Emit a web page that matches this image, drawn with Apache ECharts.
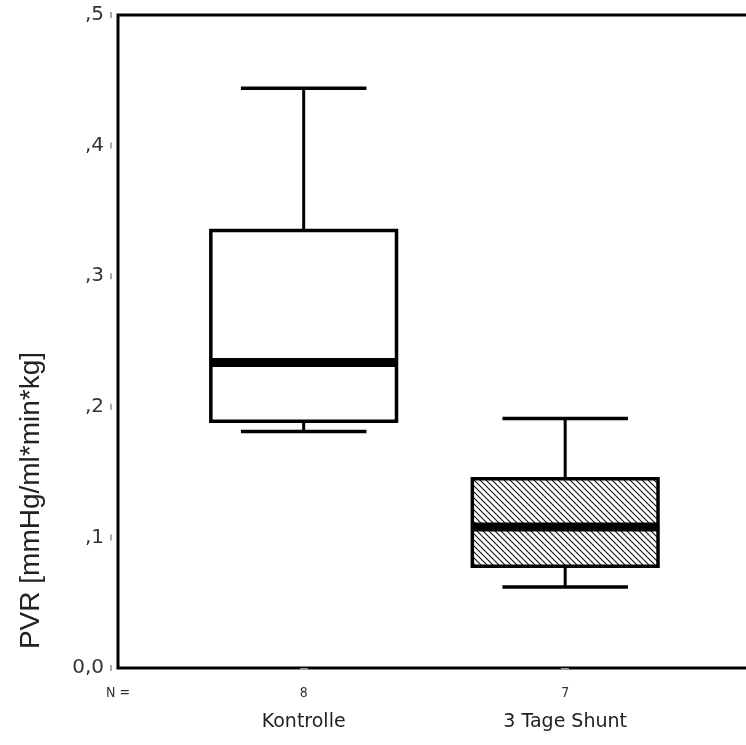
<!DOCTYPE html>
<html>
<head>
<meta charset="utf-8">
<title>PVR</title>
<script src="https://cdn.jsdelivr.net/npm/echarts@6.0.0/dist/echarts.min.js"></script>
<style>
    html, body { margin: 0; padding: 0; background: #fff; }
    #chart { width: 746px; height: 745px; }
</style>
</head>
<body>
<div id="chart"></div>
<script>
'use strict';

// groups and their sizes (N)
var categories = ['Kontrolle', '3 Tage Shunt'];
var groupN = ['8', '7'];
// [low whisker, Q1, median, Q3, high whisker]
var kontrolleBox = [0.181, 0.189, 0.234, 0.335, 0.444];
var shuntBox = [0.062, 0.078, 0.108, 0.145, 0.191];
var yTickLabels = ['0,0', ',1', ',2', ',3', ',4', ',5'];

var BOX_WIDTH = 0.71;   // in category units
var CAP_WIDTH = 0.48;

function hatchPattern() {
    var s = 6;
    var c = document.createElement('canvas');
    c.width = s;
    c.height = s;
    var ctx = c.getContext('2d');
    ctx.fillStyle = '#fff';
    ctx.fillRect(0, 0, s, s);
    ctx.strokeStyle = '#111';
    ctx.lineWidth = 1.1;
    ctx.beginPath();
    ctx.moveTo(-1, -1); ctx.lineTo(s + 1, s + 1);
    ctx.moveTo(-1, s - 1); ctx.lineTo(1, s + 1);
    ctx.moveTo(s - 1, -1); ctx.lineTo(s + 1, 1);
    ctx.stroke();
    return { image: c, repeat: 'repeat' };
}

var fills = ['#fff', hatchPattern()];

var boxData = [
    [0].concat(kontrolleBox),
    [1].concat(shuntBox)
];

function renderBox(params, api) {
    var x = api.value(0);
    var low = api.coord([x, api.value(1)]);
    var q1 = api.coord([x, api.value(2)]);
    var med = api.coord([x, api.value(3)]);
    var q3 = api.coord([x, api.value(4)]);
    var high = api.coord([x, api.value(5)]);
    var cx = low[0];
    var half = api.size([BOX_WIDTH, 0])[0] / 2;
    var capHalf = api.size([CAP_WIDTH, 0])[0] / 2;
    var stroke = { stroke: '#000', lineWidth: 3 };
    return {
        type: 'group',
        children: [
            { type: 'line', shape: { x1: cx, y1: q3[1], x2: cx, y2: high[1] }, style: stroke },
            { type: 'line', shape: { x1: cx, y1: q1[1], x2: cx, y2: low[1] }, style: stroke },
            { type: 'line', shape: { x1: cx - capHalf, y1: high[1], x2: cx + capHalf, y2: high[1] }, style: { stroke: '#000', lineWidth: 3.5 } },
            { type: 'line', shape: { x1: cx - capHalf, y1: low[1], x2: cx + capHalf, y2: low[1] }, style: { stroke: '#000', lineWidth: 3.5 } },
            {
                type: 'rect',
                shape: { x: cx - half, y: q3[1], width: half * 2, height: q1[1] - q3[1] },
                style: { fill: fills[params.dataIndex], stroke: '#000', lineWidth: 3.5 }
            },
            { type: 'line', shape: { x1: cx - half, y1: med[1], x2: cx + half, y2: med[1] }, style: { stroke: '#000', lineWidth: 9 } }
        ]
    };
}

var chart = echarts.init(document.getElementById('chart'), null, { renderer: 'canvas' });

var option = {
    backgroundColor: '#fff',
    animation: false,
    grid: {
        left: 118,
        top: 15,
        height: 653,
        width: 642,
        outerBoundsMode: 'none',
        containLabel: false,
        show: true,
        borderColor: '#000',
        borderWidth: 3,
        backgroundColor: '#fff'
    },
    xAxis: {
        type: 'value',
        min: -0.71,
        max: 1.745,
        axisLine: { show: false },
        splitLine: { show: false },
        axisTick: {
            show: true,
            customValues: [0, 1],
            length: 2,
            lineStyle: { color: '#999', width: 8 }
        },
        axisLabel: {
            customValues: [-0.71, 0, 1],
            margin: 15,
            formatter: function (v) {
                if (v < -0.5) {
                    return '{n|N =}\n{c| }';
                }
                var i = Math.round(v);
                return '{n|' + groupN[i] + '}\n{c|' + categories[i] + '}';
            },
            rich: {
                n: { fontSize: 14, lineHeight: 20, color: '#333', fontFamily: 'DejaVu Sans Condensed' },
                c: { fontSize: 19, lineHeight: 38, color: '#222', fontFamily: 'DejaVu Sans' }
            }
        }
    },
    yAxis: {
        type: 'value',
        min: 0,
        max: 0.5,
        interval: 0.1,
        name: 'PVR [mmHg/ml*min*kg]',
        nameLocation: 'middle',
        nameGap: 73,
        nameRotate: 90,
        nameTextStyle: {
            fontSize: 28,
            color: '#222',
            fontFamily: 'Liberation Sans',
            padding: [0, 318, 0, 0]
        },
        axisLine: { show: false },
        axisTick: { show: false },
        splitLine: { show: false },
        axisLabel: {
            margin: 6,
            formatter: function (v) {
                return '{l|' + yTickLabels[Math.round(v * 10)] + '}{s| }{t| }';
            },
            rich: {
                l: { fontSize: 20, color: '#333', fontFamily: 'DejaVu Sans' },
                s: { width: 6 },
                t: { width: 2, height: 6, backgroundColor: '#aaa' }
            }
        }
    },
    series: [{
        type: 'custom',
        renderItem: renderBox,
        data: boxData,
        encode: { x: 0, y: [1, 2, 3, 4, 5] },
        clip: false
    }]
};

chart.setOption(option);
</script>
</body>
</html>
